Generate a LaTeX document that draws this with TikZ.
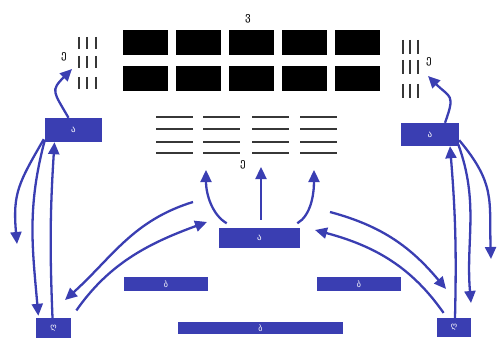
\documentclass[tikz,border=0pt]{standalone}
\usepackage{fontspec}
\newfontfamily\geofont{DejaVu Sans}
\usetikzlibrary{arrows.meta}
\definecolor{boxblue}{RGB}{58,62,178}
\definecolor{dashgray}{RGB}{55,55,55}

\begin{document}
\begin{tikzpicture}[x=1pt,y=-1pt,
  box/.style={fill=boxblue,text=white,inner sep=0pt,font=\geofont\fontsize{9}{9}\selectfont},
  bar/.style={box,minimum width=84pt,minimum height=14pt,font=\geofont\fontsize{8}{8}\selectfont},
  blk/.style={fill=black,minimum width=45pt,minimum height=25pt,inner sep=0pt},
  lbl/.style={font=\geofont\fontsize{11}{11}\selectfont,inner sep=0pt},
  flow/.style={draw=boxblue,line width=2.3pt,-{Triangle[length=12pt,width=11pt]}},
  tick/.style={draw=dashgray,line width=2.6pt}]

  \useasboundingbox (0,0) rectangle (503,342);

  % top blocks
  \foreach \r/\y in {1/42.5,2/78.5}
    \foreach \c in {1,...,5}
      \node[blk] (k\r\c) at ({145.5+53*(\c-1)},\y) {};
  \node[lbl] (ltop) at (248,19) {ვ};

  % dashes
  \foreach \x in {79,87,96}
    \foreach \y in {43,62,83}
      \draw[tick] (\x,\y-6) -- (\x,\y+6);
  \foreach \x in {403,410,418}
    \foreach \y in {47,67,91}
      \draw[tick] (\x,\y-7) -- (\x,\y+7);
  \foreach \x in {156,203,252,300}
    \foreach \y in {117,129,142,153}
      \draw[tick] (\x,\y) -- (\x+37,\y);

  \node[lbl] (lleft)  at (64,57)   {ე};
  \node[lbl] (lright) at (429,62)  {ე};
  \node[lbl] (lmid)   at (243,165) {ე};

  % boxes
  \node[box,minimum width=57pt,minimum height=24pt] (lbox) at (73.5,130) {ა};
  \node[box,minimum width=58pt,minimum height=23pt] (rbox) at (430,134.5) {ა};
  \node[box,minimum width=81pt,minimum height=20pt] (cbox) at (259.5,238) {ა};
  \node[bar] (lbar) at (166,284) {ბ};
  \node[bar] (rbar) at (359,284) {ბ};
  \node[bar,minimum width=165pt,minimum height=12pt] (bbar) at (260.5,328) {ბ};
  \node[box,minimum width=35pt,minimum height=20pt,font=\geofont\fontsize{8}{8}\selectfont] (lsml) at (53.5,328) {ღ};
  \node[box,minimum width=34pt,minimum height=19pt,font=\geofont\fontsize{8}{8}\selectfont] (rsml) at (454,327.5) {ღ};

  % free ends
  \coordinate (lup)   at (72,69);
  \coordinate (rup)   at (428,76);
  \coordinate (ldn)   at (17,244);
  \coordinate (rdn)   at (491,259);
  \coordinate (lfrom) at (193,202);
  \coordinate (lto)   at (65,300);
  \coordinate (lin)   at (207,222);
  \coordinate (rfrom) at (330,212);
  \coordinate (rto)   at (446,289);
  \coordinate (rin)   at (315,230);
  \coordinate (rlow)  at (471,303);
  \coordinate (cl)    at (206,170);
  \coordinate (cm)    at (261,167);
  \coordinate (cr)    at (314,170);

  % flows
  \draw[flow] ([xshift=-5pt]lbox.north) to[out=120,in=225,looseness=1.6] (lup);
  \draw[flow] ([xshift=15pt]rbox.north) to[out=70,in=-45,looseness=1.6] (rup);
  \draw[flow] ([xshift=-1pt,yshift=3pt]lbox.south west) to[out=240,in=95,looseness=1.2] (ldn);
  \draw[flow,shorten >=2pt] ([yshift=2pt]lbox.south west) to[out=255,in=95] ([xshift=-15pt]lsml.north);
  \draw[flow] ([xshift=-1pt]lsml.north) to[bend left=3] ([xshift=-19pt]lbox.south);
  \draw[flow] (lfrom) to[out=197,in=42] (lto);
  \draw[flow,shorten <=9pt] (lsml.north east) to[out=55,in=200] (lin);
  \draw[flow,shorten <=9pt] ([xshift=-25pt]cbox.north) to[out=150,in=-90] (cl);
  \draw[flow,shorten <=8pt] ([xshift=1.5pt]cbox.north) -- (cm);
  \draw[flow,shorten <=9pt] ([xshift=30pt]cbox.north) to[out=30,in=-90] (cr);
  \draw[flow] (rfrom) to[out=-15,in=130] (rto);
  \draw[flow,shorten <=6pt] ([xshift=-7pt]rsml.north) to[out=125,in=-15] (rin);
  \draw[flow] ([xshift=1pt]rsml.north) to[bend right=3] ([xshift=20pt]rbox.south);
  \draw[flow] ([yshift=6pt]rbox.south east) to[out=-50,in=92,looseness=1.2] (rdn);
  \draw[flow] ([xshift=-1pt,yshift=2pt]rbox.south east) to[out=-70,in=95] (rlow);
\end{tikzpicture}
\end{document}
